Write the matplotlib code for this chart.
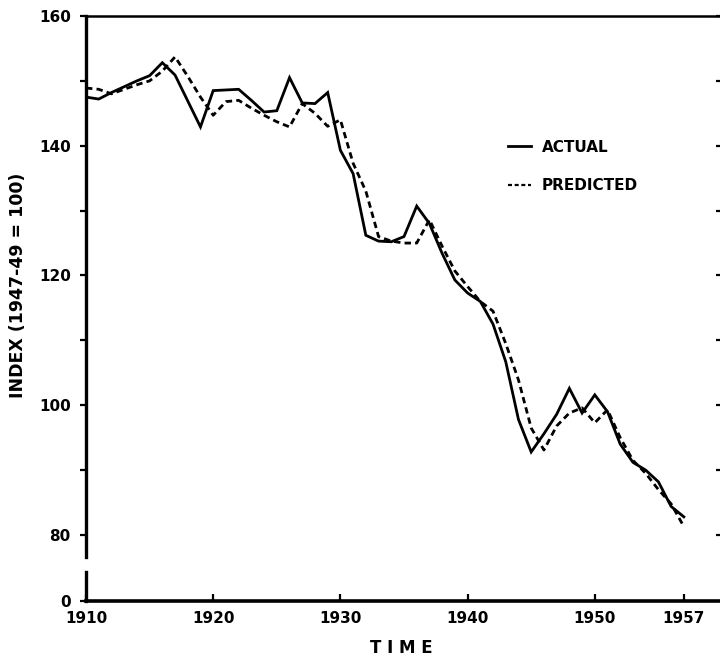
import matplotlib.pyplot as plt
from matplotlib.lines import Line2D

# 数据
years = list(range(1910, 1958))
actual = [147.5, 147.2, 148.2, 149.1, 150.0, 150.8, 152.8, 150.9, 146.9, 142.9,
          148.5, 148.6, 148.7, 147.0, 145.2, 145.4, 150.5, 146.6, 146.5, 148.2,
          139.3, 135.7, 126.2, 125.3, 125.2, 126.0, 130.7, 128.0, 123.4, 119.3,
          117.3, 116.0, 112.5, 106.7, 97.8, 92.8, 95.6, 98.6, 102.6, 98.8,
          101.6, 99.0, 94.0, 91.2, 90.0, 88.2, 84.4, 82.8]
predicted = [148.9, 148.7, 148.0, 148.7, 149.4, 150.0, 151.5, 153.7, 150.7, 147.5,
             144.7, 146.8, 147.0, 145.8, 144.7, 143.7, 142.9, 146.5, 145.0, 143.0,
             144.0, 137.3, 133.0, 126.0, 125.3, 125.0, 125.0, 128.6, 124.5, 120.7,
             118.3, 116.0, 114.5, 109.5, 103.9, 96.5, 93.1, 96.8, 98.8, 99.6,
             97.3, 99.3, 95.0, 91.5, 89.5, 87.0, 84.8, 81.3]
x_ticks = [1910, 1920, 1930, 1940, 1950, 1957]
y_major = [80, 100, 120, 140, 160]
y_minor = [90, 110, 130, 150]

plt.rcParams['font.family'] = ['DejaVu Sans']
plt.rcParams['font.weight'] = 'bold'
font_size = 11

W, H = 720, 659
fig = plt.figure(figsize=(7.2, 6.59), dpi=100)

left_px, right_px = 86, 722
x_max = 1910 + (right_px - left_px) / 12.72

# 上部主图
ax = fig.add_axes([left_px / W, 1 - 557 / H, (right_px - left_px) / W, (557 - 16) / H])
ax.plot(years, actual, color='black', linewidth=2.0, solid_joinstyle='miter')
ax.plot(years, predicted, color='black', linewidth=2.0, dashes=(2.3, 1.5))
ax.set_xlim(1910, x_max)
ax.set_ylim(160 - (557 - 16) / 6.4875, 160)
ax.spines['bottom'].set_visible(False)
ax.spines['right'].set_visible(False)
ax.spines['left'].set_linewidth(2.4)
ax.spines['top'].set_linewidth(1.8)
ax.set_xticks([])
ax.set_yticks(y_major)
ax.set_yticks(y_minor, minor=True)
ax.set_yticklabels([str(v) for v in y_major], fontsize=font_size, fontweight='bold')
ax.tick_params(axis='y', which='both', direction='out', length=4, width=1.6, pad=7)

# 右侧刻度 (向内)
ax_r = ax.twinx()
ax_r.set_ylim(ax.get_ylim())
ax_r.set_yticks(y_major + y_minor)
ax_r.set_yticklabels([])
ax_r.tick_params(axis='y', direction='in', length=4.5, width=1.6)
for s in ax_r.spines.values():
    s.set_visible(False)

# 图例
handles = [Line2D([], [], color='black', linewidth=2.0),
           Line2D([], [], color='black', linewidth=1.6, dashes=(1.8, 1.2))]
fig.legend(handles, ['ACTUAL', 'PREDICTED'], loc='center left',
           bbox_to_anchor=(508 / W, 1 - 166.5 / H), frameon=False,
           prop={'size': font_size, 'weight': 'bold'}, handlelength=1.5,
           handletextpad=0.7, labelspacing=1.55, borderpad=0, borderaxespad=0)

# 下部 0 轴
bx = fig.add_axes([left_px / W, 1 - 601 / H, (right_px - left_px) / W, 29 / H])
bx.set_xlim(1910, x_max)
bx.set_ylim(0, 1)
bx.spines['top'].set_visible(False)
bx.spines['right'].set_visible(False)
bx.spines['left'].set_linewidth(2.4)
bx.spines['bottom'].set_linewidth(2.6)
bx.set_yticks([0])
bx.set_yticklabels(['0'], fontsize=font_size, fontweight='bold')
bx.set_xticks(x_ticks)
bx.set_xticklabels([str(t) for t in x_ticks], fontsize=font_size, fontweight='bold')
bx.tick_params(axis='x', direction='in', length=5, width=1.6, pad=7)
bx.tick_params(axis='y', direction='out', length=4, width=1.6, pad=7)

fig.text(18 / W, 1 - 285 / H, 'INDEX (1947-49 = 100)', rotation=90,
         ha='center', va='center', fontsize=12.5, fontweight='bold')
fig.text(401 / W, 1 - 648 / H, 'T I M E', ha='center', va='center',
         fontsize=12, fontweight='bold')

fig.savefig('out.png', dpi=100)
